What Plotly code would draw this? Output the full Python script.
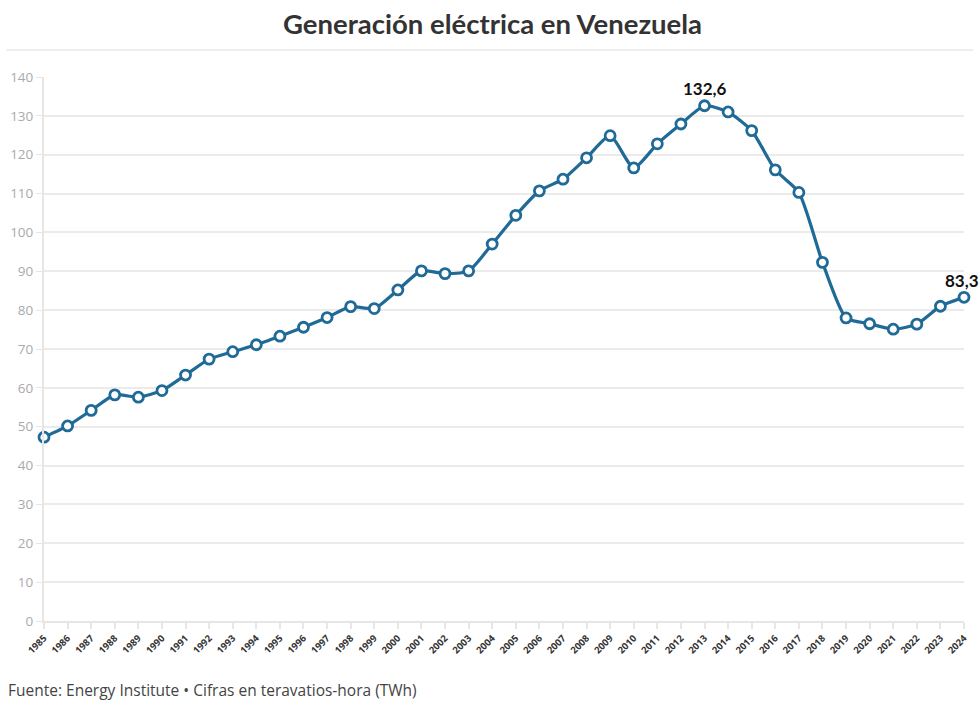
import plotly.graph_objects as go

years = list(range(1985, 2025))
generation_twh = [47.3, 50.2, 54.2, 58.2, 57.6, 59.3, 63.3, 67.4, 69.3, 71.1,
                  73.3, 75.6, 78.1, 80.9, 80.4, 85.2, 90.1, 89.4, 90.1, 97.0,
                  104.4, 110.7, 113.7, 119.2, 124.9, 116.6, 122.8, 127.9, 132.6, 131.0,
                  126.2, 116.1, 110.3, 92.3, 78.0, 76.5, 75.1, 76.4, 81.0, 83.3]
labeled_years = [2013, 2024]
labeled_texts = ["132,6", "83,3"]

title_text = "Generación eléctrica en Venezuela"
footer_text = "Fuente: Energy Institute • Cifras en teravatios-hora (TWh)"
y_ticks = list(range(0, 150, 10))

color = "#1f6a96"

fig = go.Figure()
fig.add_trace(go.Scatter(
    x=years, y=generation_twh, mode="lines+markers",
    line=dict(color=color, width=3.2, shape="spline", smoothing=0.6),
    marker=dict(size=10, color="white", line=dict(color=color, width=2.8)),
    cliponaxis=False, hoverinfo="x+y", showlegend=False,
))

for yr, txt in zip(labeled_years, labeled_texts):
    val = generation_twh[years.index(yr)]
    fig.add_annotation(x=yr, y=val, text="<b>" + txt + "</b>", showarrow=False,
                       yshift=17, xshift=(0 if yr != 2024 else -2),
                       font=dict(family="Lato, sans-serif", size=17, color="#111"))

fig.add_annotation(text="<b>" + title_text + "</b>", xref="paper", yref="paper",
                   x=0.5, xshift=-12, y=1, yshift=54, xanchor="center", yanchor="middle", showarrow=False,
                   font=dict(family="Lato, sans-serif", size=27.5, color="#333"))
fig.add_annotation(text=footer_text, xref="paper", yref="paper",
                   x=0, xshift=-38, y=0, yshift=-69, xanchor="left", yanchor="middle",
                   showarrow=False, font=dict(family="Open Sans, sans-serif", size=15.5, color="#444"))

fig.add_shape(type="line", xref="paper", yref="paper", x0=-0.041, x1=1.01, y0=1.0496, y1=1.0496,
              line=dict(color="#dddddd", width=1))

fig.update_layout(
    width=979, height=709,
    margin=dict(l=44, r=9, t=77, b=88),
    plot_bgcolor="white", paper_bgcolor="white",
    font=dict(family="Open Sans, sans-serif"),
    xaxis=dict(range=[1985, 2024], tickmode="array", tickvals=years,
               ticktext=["<b>%d</b>" % y for y in years], tickangle=-45,
               tickfont=dict(size=9.5, color="#333"), showgrid=False,
               showline=True, linecolor="#e6e6e6", linewidth=2,
               ticks="outside", ticklen=6, tickcolor="#e6e6e6", tickwidth=1.5,
               zeroline=False, fixedrange=True),
    yaxis=dict(range=[0, 140], tickmode="array", tickvals=y_ticks,
               tickfont=dict(size=13.5, color="#aaaaaa"), showgrid=True,
               gridcolor="#ebebeb", gridwidth=1.5,
               showline=True, linecolor="#e6e6e6", linewidth=2,
               ticks="outside", ticklen=6, tickcolor="#e6e6e6",
               zeroline=False, fixedrange=True),
)

fig.write_html("out.html")
